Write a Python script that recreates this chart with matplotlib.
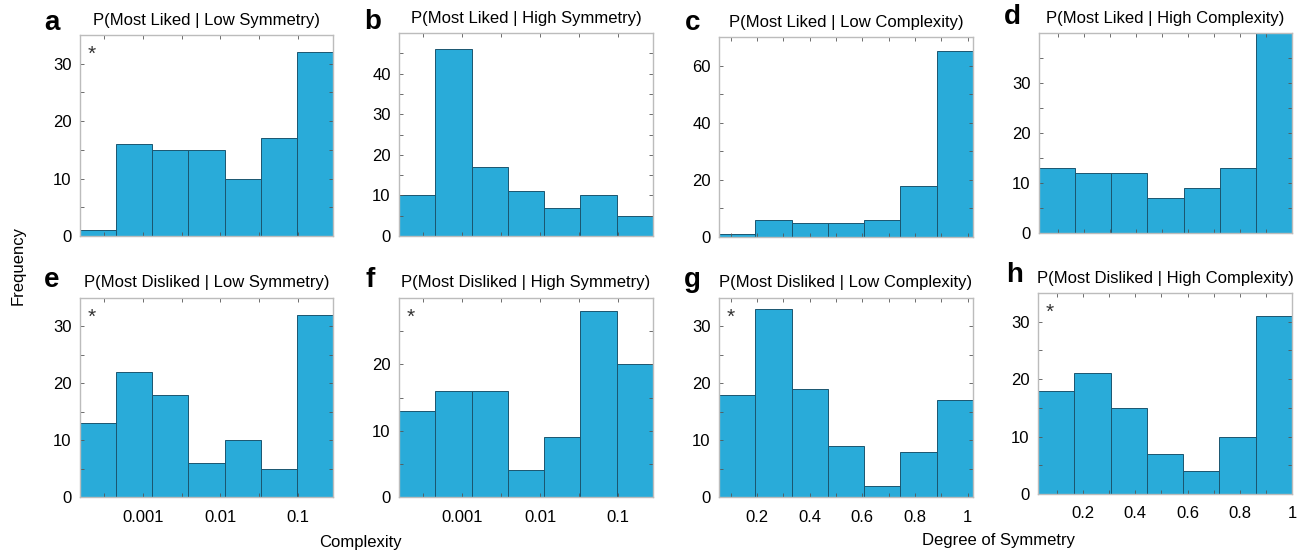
import matplotlib
matplotlib.use("Agg")
import matplotlib.pyplot as plt
import numpy as np

plt.rcParams['font.family'] = ['Liberation Sans', 'DejaVu Sans']

# panel letters, titles and bin counts (7 bins each)
letters = ['a', 'b', 'c', 'd', 'e', 'f', 'g', 'h']
titles = ['P(Most Liked | Low Symmetry)', 'P(Most Liked | High Symmetry)',
          'P(Most Liked | Low Complexity)', 'P(Most Liked | High Complexity)',
          'P(Most Disliked | Low Symmetry)', 'P(Most Disliked | High Symmetry)',
          'P(Most Disliked | Low Complexity)', 'P(Most Disliked | High Complexity)']
counts_a = [1, 16, 15, 15, 10, 17, 32]
counts_b = [10, 46, 17, 11, 7, 10, 5]
counts_c = [1, 6, 5, 5, 6, 18, 65]
counts_d = [13, 12, 12, 7, 9, 13, 40]
counts_e = [13, 22, 18, 6, 10, 5, 32]
counts_f = [13, 16, 16, 4, 9, 28, 20]
counts_g = [18, 33, 19, 9, 2, 8, 17]
counts_h = [18, 21, 15, 7, 4, 10, 31]
counts = [counts_a, counts_b, counts_c, counts_d, counts_e, counts_f, counts_g, counts_h]
ylims = [35, 50, 70, 40, 35, 30, 35, 35]
ymajor = [10, 10, 20, 10, 10, 10, 10, 10]
yminor = [5, 5, 10, 5, 5, 5, 5, 5]
stars = [True, False, False, False, True, True, True, True]

# complexity axis (log10 of complexity) and symmetry axis ranges
log_range = (-3.81, -0.55)
log_ticks = [-3, -2, -1]
log_labels = ['0.001', '0.01', '0.1']
sym_range_c = (0.056, 1.02)
sym_range_h = (0.027, 1.0)
sym_ticks = [0.2, 0.4, 0.6, 0.8, 1.0]
sym_labels = ['0.2', '0.4', '0.6', '0.8', '1']

W, H = 1306, 553
# axes boxes in pixels: left, top, right, bottom
boxes = [(80, 35, 333, 236), (399, 33, 653, 236), (719, 37, 973, 237), (1039, 33, 1292, 233),
         (80, 298, 333, 497), (399, 298, 653, 497), (719, 298, 973, 497), (1038, 293, 1292, 494)]
letter_pos = [(52, 23), (373, 22), (693, 23), (1012, 17), (52, 280), (370, 280), (692, 280), (1015, 275)]

face = '#29abd9'
edge = '#1b5670'
spine = '#bcbcbc'

fig = plt.figure(figsize=(W / 100, H / 100), dpi=100)

for i in range(8):
    l, t, r, b = boxes[i]
    ax = fig.add_axes([l / W, 1 - b / H, (r - l) / W, (b - t) / H])
    col = i % 4
    if col < 2:
        rng = log_range
    elif col == 2:
        rng = sym_range_c
    else:
        rng = sym_range_h
    edges = np.linspace(rng[0], rng[1], 8)
    ax.bar(edges[:-1], counts[i], width=np.diff(edges), align='edge',
           color=face, edgecolor=edge, linewidth=0.7)
    ax.set_xlim(rng)
    ax.set_ylim(0, ylims[i])

    if col < 2:
        ax.set_xticks(np.arange(-3.5, -0.5, 0.5))
        labs = [log_labels[log_ticks.index(v)] if v in log_ticks else '' for v in np.arange(-3.5, -0.5, 0.5)]
        ax.set_xticklabels(labs if i >= 4 else [''] * len(labs))
    else:
        ax.set_xticks(sym_ticks)
        ax.set_xticks(np.arange(0.1, 1.0, 0.2), minor=True)
        ax.set_xticklabels(sym_labels if i >= 4 else [''] * len(sym_labels))

    yt = np.arange(0, ylims[i], ymajor[i])
    ax.set_yticks(yt)
    ax.set_yticks(np.arange(0, ylims[i] + 0.1, yminor[i]), minor=True)
    ax.tick_params(which='both', direction='in', top=True, right=True,
                   length=3, width=0.6, color='#555555', labelsize=12, pad=6)
    ax.tick_params(axis='x', pad=9)
    for s in ax.spines.values():
        s.set_color(spine)
        s.set_linewidth(1.0)

    ax.text((l + r) / 2 / W, 1 - (t - 15) / H, titles[i], transform=fig.transFigure,
            ha='center', va='center', fontsize=12)
    fig.text(letter_pos[i][0] / W, 1 - letter_pos[i][1] / H, letters[i],
             ha='center', va='center', fontsize=20, fontweight='bold')
    if stars[i]:
        ax.text(0.047, 0.905, '*', transform=ax.transAxes, ha='center', va='center',
                fontsize=15, color='#333333')

fig.text(18 / W, 1 - 265 / H, 'Frequency', rotation=90, ha='center', va='center', fontsize=12)
fig.text(360 / W, 1 - 543 / H, 'Complexity', ha='center', va='center', fontsize=12)
fig.text(998 / W, 1 - 540 / H, 'Degree of Symmetry', ha='center', va='center', fontsize=12)

fig.savefig('out.png', dpi=100)
